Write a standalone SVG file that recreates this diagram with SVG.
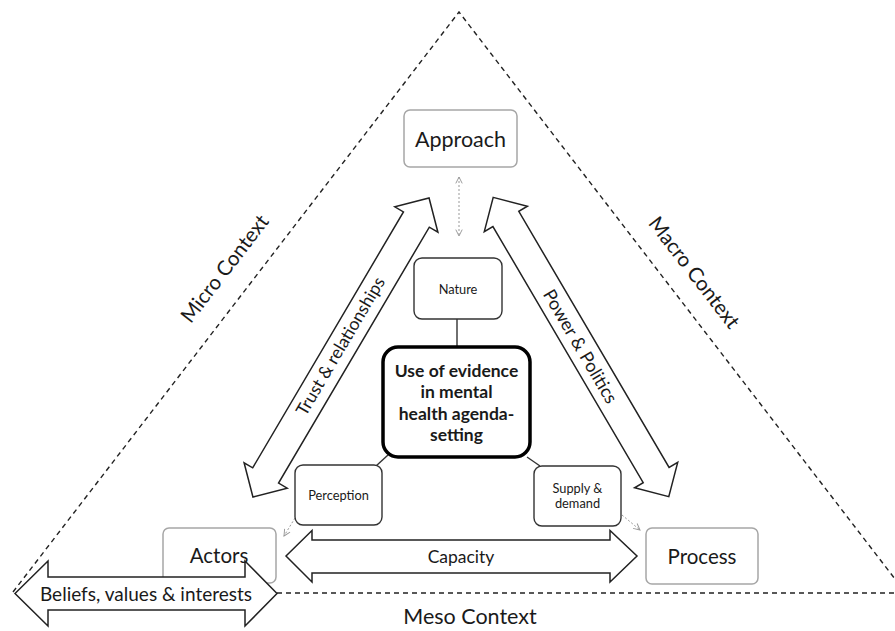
<svg xmlns="http://www.w3.org/2000/svg" width="895" height="631" viewBox="0 0 895 631">
<defs>
<style>
.ctx{fill:none;stroke:#222;stroke-width:1.4;stroke-dasharray:5,4}
.outer{fill:#fff;stroke:#a6a6a6;stroke-width:1.5}
.inner{fill:#fff;stroke:#333;stroke-width:1.4}
.core{fill:#fff;stroke:#000;stroke-width:3.5}
.blk{fill:#fff;stroke:#222;stroke-width:1.5;stroke-linejoin:miter}
.t{font-family:Lato,"Liberation Sans",sans-serif;fill:#1a1a1a;text-anchor:middle;dominant-baseline:central}
.big{font-size:20.5px}
.mid{font-size:17.5px}
.sm{font-size:12.8px}
.bold{font-size:17.5px;font-weight:bold}
.link{stroke:#333;stroke-width:1.4;fill:none}
.dot{stroke:#999;stroke-width:1;stroke-dasharray:2,2;fill:none}
</style>
<marker id="oa" viewBox="0 0 10 10" refX="9" refY="5" markerWidth="8" markerHeight="8" orient="auto-start-reverse" markerUnits="userSpaceOnUse">
<path d="M1,1 L9,5 L1,9" fill="none" stroke="#999" stroke-width="1.2"/>
</marker>
</defs>
<rect width="895" height="631" fill="#fff"/>

<g id="context">
<polyline class="ctx" points="13,592 459,12 905,592"/>
<line class="ctx" x1="277" y1="593" x2="895" y2="593"/>
<text class="t big" transform="translate(224,268) rotate(-52.4)">Micro Context</text>
<text class="t big" transform="translate(695,272) rotate(52.4)">Macro Context</text>
<text class="t" style="font-size:21.5px" x="470" y="616">Meso Context</text>
</g>

<g id="connectors">
<line class="link" x1="457" y1="319" x2="457" y2="347"/>
<line class="link" x1="388" y1="455" x2="376" y2="466"/>
<line class="link" x1="527" y1="457" x2="540" y2="466"/>
<line class="dot" x1="459" y1="177" x2="459" y2="236" marker-start="url(#oa)" marker-end="url(#oa)"/>
<line class="dot" x1="295" y1="518" x2="284" y2="536" marker-end="url(#oa)"/>
<line class="dot" x1="622" y1="515" x2="640" y2="530" marker-end="url(#oa)"/>
</g>

<g id="trust">
<polygon class="blk" transform="translate(341,347.5) rotate(-59.5)" points="-173.5,0 -148.5,-25 -148.5,-15 148.5,-15 148.5,-25 173.5,0 148.5,25 148.5,15 -148.5,15 -148.5,25"/>
<text class="t mid" transform="translate(340,346) rotate(-59.5)">Trust &amp; relationships</text>
</g>

<g id="power">
<polygon class="blk" transform="translate(581,347) rotate(59.6)" points="-173.5,0 -148.5,-25 -148.5,-15 148.5,-15 148.5,-25 173.5,0 148.5,25 148.5,15 -148.5,15 -148.5,25"/>
<text class="t" style="font-size:18px" transform="translate(581,346) rotate(59.6)">Power &amp; Politics</text>
</g>

<g id="capacity">
<polygon class="blk" points="286,556 312,530.5 312,540 610,540 610,530.5 637,556 610,582 610,573 312,573 312,582"/>
<text class="t mid" x="461" y="556">Capacity</text>
</g>

<g id="approach">
<rect class="outer" x="404" y="110" width="113" height="57" rx="6"/>
<text class="t" style="font-size:21.5px" x="460.5" y="138.5">Approach</text>
</g>

<g id="nature">
<rect class="inner" x="414" y="258" width="88" height="61" rx="8"/>
<text class="t sm" x="458" y="289">Nature</text>
</g>

<g id="core">
<rect class="core" x="383" y="347" width="147" height="110" rx="15"/>
<text class="t bold" x="456.5" y="370">Use of evidence</text>
<text class="t bold" x="456.5" y="391.5">in mental</text>
<text class="t bold" x="456.5" y="413">health agenda-</text>
<text class="t bold" x="456.5" y="434.5">setting</text>
</g>

<g id="perception">
<rect class="inner" x="295" y="465" width="87" height="60" rx="8"/>
<text class="t sm" x="338.5" y="495">Perception</text>
</g>

<g id="supply">
<rect class="inner" x="534" y="466" width="87" height="60" rx="8"/>
<text class="t sm" x="577.5" y="488">Supply &amp;</text>
<text class="t sm" x="577.5" y="503">demand</text>
</g>

<g id="actors">
<rect class="outer" x="163" y="528" width="113" height="55" rx="6"/>
<text class="t big" x="219" y="555">Actors</text>
</g>

<g id="process">
<rect class="outer" x="646" y="528" width="112" height="56" rx="6"/>
<text class="t big" x="702" y="556">Process</text>
</g>

<g id="beliefs">
<polygon class="blk" points="15,593.5 48,561 48,577 245,577 245,561 277,593.5 245,626 245,610 48,610 48,626"/>
<text class="t" style="font-size:19px" x="146" y="593">Beliefs, values &amp; interests</text>
</g>
</svg>
